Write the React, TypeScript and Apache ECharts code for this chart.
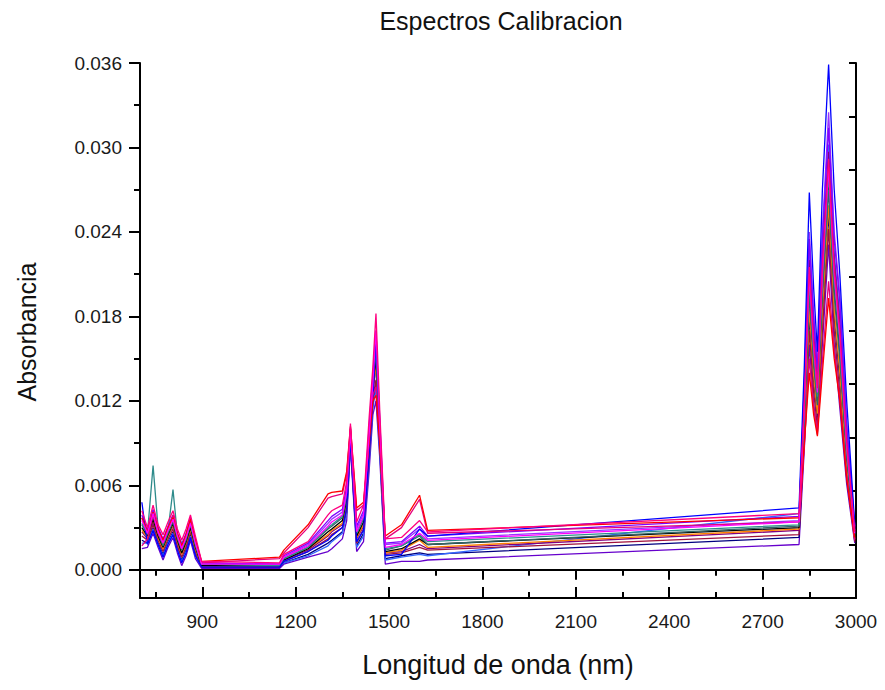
import React, { useEffect, useRef } from "react";
import * as echarts from "echarts";

const wavelengths = [706, 724, 742, 758, 774, 790, 806, 820, 834, 848, 862, 878, 898, 1148, 1162, 1240, 1304, 1316, 1350, 1364, 1376, 1396, 1418, 1436, 1448, 1458, 1470, 1488, 1540, 1598, 1624, 2817, 2834, 2850, 2864, 2876, 2892, 2912, 2930, 2948, 2970, 2996];

// Absorbance values, in units of 0.001
const sBlack = [3.0, 2.4, 3.6, 2.4, 1.6, 2.5, 3.3, 2.1, 1.2, 2.0, 3.0, 1.6, 0.3, 0.3, 0.7, 1.5, 2.7, 2.9, 3.5, 5.0, 9.6, 2.4, 3.4, 9.0, 12.8, 15.1, 9.8, 1.3, 1.5, 2.2, 1.8, 3.0, 11, 20, 15, 12, 20, 27.5, 20, 15.5, 8.2, 2.4];
const sBlue = [4.8, 1.8, 2.8, 1.8, 0.9, 1.8, 2.5, 1.4, 0.5, 1.2, 2.3, 1.0, 0.2, 0.2, 0.6, 1.3, 2.1, 2.4, 3.0, 4.4, 9.3, 2.0, 2.8, 8.2, 12.0, 16.5, 10.2, 1.0, 1.1, 2.9, 2.4, 4.4, 14.5, 26.8, 20, 15.5, 27, 35.9, 27, 21, 12, 3.2];
const sMagenta = [3.5, 2.6, 4.0, 2.7, 1.9, 2.8, 3.6, 2.4, 1.5, 2.3, 3.3, 1.9, 0.4, 0.4, 0.9, 1.7, 3.1, 3.4, 3.9, 5.5, 9.8, 2.7, 3.8, 9.6, 13.3, 17.0, 10.3, 1.6, 1.8, 2.6, 2.1, 3.4, 11.6, 21, 15.8, 12.6, 21, 28.6, 21, 16.5, 8.8, 2.6];
const sTeal = [3.3, 2.6, 7.4, 3.0, 1.8, 2.8, 5.7, 2.5, 1.9, 2.3, 3.3, 1.8, 0.4, 0.3, 0.8, 1.6, 3.0, 3.2, 3.8, 5.3, 9.7, 2.6, 3.7, 9.4, 13.1, 15.7, 10.1, 1.5, 1.7, 2.5, 2.0, 3.2, 11.3, 20.5, 15.4, 12.3, 20.5, 28.1, 20.5, 16, 8.5, 2.5];
const sNavy = [2.1, 1.9, 3.0, 1.9, 1.1, 2.0, 2.7, 1.6, 0.7, 1.4, 2.5, 1.1, 0.2, 0.2, 0.5, 1.1, 1.9, 2.1, 2.7, 4.1, 9.1, 1.7, 2.6, 7.8, 11.7, 13.2, 8.7, 0.8, 1.0, 1.2, 1.1, 2.3, 9.8, 18, 13.4, 10.8, 18, 25.3, 18, 13.5, 7.2, 2.2];
const sViolet = [3.9, 2.8, 4.3, 3.0, 2.2, 3.1, 3.9, 2.6, 1.8, 2.6, 3.6, 2.2, 0.5, 0.4, 1.0, 1.9, 3.5, 3.8, 4.3, 5.9, 10.1, 3.1, 4.2, 10.2, 13.8, 17.0, 10.8, 1.9, 2.0, 3.1, 2.4, 3.8, 13.1, 23.5, 17.8, 14.1, 23.5, 31.4, 23.5, 19, 10.2, 3.0];
const sPurple = [2.7, 2.2, 3.4, 2.3, 1.5, 2.4, 3.1, 1.9, 1.1, 1.8, 2.9, 1.5, 0.3, 0.3, 0.7, 1.4, 2.4, 2.7, 3.2, 4.7, 9.4, 2.2, 3.1, 8.6, 12.4, 14.5, 9.4, 1.2, 1.3, 1.8, 1.5, 2.8, 12.2, 22, 16.6, 13.2, 22, 29.7, 22, 17.5, 9.4, 2.8];
const sWine = [2.4, 2.1, 3.2, 2.1, 1.3, 2.2, 2.9, 1.7, 0.9, 1.6, 2.7, 1.3, 0.2, 0.2, 0.6, 1.3, 2.2, 2.5, 3.0, 4.3, 9.2, 1.9, 2.9, 8.0, 12.2, 13.5, 9.1, 1.1, 1.2, 1.6, 1.4, 2.5, 9.2, 17, 12.6, 10.2, 17, 24.2, 17, 12.5, 6.6, 2.0];
const sDarkCyan = [3.2, 2.5, 3.8, 2.6, 1.7, 2.6, 3.4, 2.2, 1.4, 2.1, 3.2, 1.7, 0.4, 0.3, 0.8, 1.6, 2.9, 3.1, 3.7, 5.2, 9.8, 2.6, 3.6, 9.3, 13.0, 15.6, 10.0, 1.4, 1.7, 2.4, 1.8, 3.1, 10.7, 19.5, 14.6, 11.7, 19.5, 27, 19.5, 15, 8, 2.4];
const sRoyal = [1.9, 1.9, 2.9, 1.8, 1.0, 1.9, 2.6, 1.5, 0.6, 1.3, 2.4, 1.0, 0.2, 0.2, 0.5, 1.0, 1.7, 2.0, 2.6, 4.0, 9.0, 1.6, 2.4, 7.6, 11.5, 12.9, 8.5, 0.7, 0.9, 1.1, 1.0, 4.0, 12.5, 22.5, 17, 13.5, 22.5, 30.2, 22.5, 18, 9.6, 2.8];
const sOrange = [2.8, 2.3, 3.6, 2.3, 1.5, 2.4, 3.2, 2.0, 1.1, 1.9, 2.9, 1.5, 0.3, 0.3, 0.8, 1.5, 2.5, 2.8, 3.3, 4.8, 9.5, 2.3, 3.2, 8.8, 12.6, 14.6, 9.6, 1.2, 1.4, 2.1, 1.6, 2.9, 10.1, 18.5, 13.8, 11.1, 18.5, 25.9, 18.5, 14, 7.4, 2.2];
const sViolet2 = [3.7, 2.6, 4.2, 2.9, 2.0, 3.0, 3.8, 2.5, 1.6, 2.5, 3.5, 2.0, 0.5, 0.4, 0.9, 1.8, 3.3, 3.6, 4.1, 5.7, 10.0, 2.9, 4.0, 9.9, 13.6, 16.6, 10.6, 1.8, 1.9, 2.9, 2.2, 3.5, 13.4, 24, 18.2, 14.4, 24, 32.5, 24, 19.5, 10.5, 3.1];
const sPink = [4.2, 3.0, 4.6, 3.2, 2.5, 3.4, 4.2, 2.9, 2.1, 2.9, 3.9, 2.4, 0.6, 0.5, 1.1, 2.0, 3.9, 4.2, 4.6, 6.3, 10.4, 3.4, 4.6, 10.8, 14.4, 18.2, 11.4, 2.2, 2.3, 3.5, 2.7, 4.0, 11.9, 21.5, 16.2, 12.9, 21.5, 29.2, 21.5, 17, 9.1, 2.7];
const sPurple2 = [1.5, 1.6, 2.6, 1.6, 0.7, 1.6, 2.3, 1.2, 0.3, 1.0, 2.1, 0.8, 0.1, 0.1, 0.4, 0.9, 1.3, 1.5, 2.2, 3.5, 8.8, 1.3, 2.0, 7.0, 11.0, 12.0, 8.0, 0.4, 0.6, 0.6, 0.7, 1.8, 8.6, 16, 11.8, 9.6, 16, 23.1, 16, 11.5, 6.1, 1.9];
const sRed = [3.7, 2.7, 4.1, 2.9, 2.1, 3.0, 3.7, 2.6, 1.7, 2.5, 3.6, 2.1, 0.6, 0.9, 1.4, 3.2, 5.4, 5.5, 5.6, 7.0, 10.2, 4.4, 4.8, 9.0, 12.0, 12.4, 9.0, 2.4, 3.2, 5.3, 2.8, 3.7, 9, 14, 11, 9.5, 14, 19.3, 15, 12, 6.5, 2.3];
const sMagentaRed = [1.7, 2.2, 3.9, 2.6, 1.9, 2.9, 3.9, 2.4, 1.5, 2.4, 3.7, 2.0, 0.5, 0.8, 1.2, 3.0, 5.1, 5.2, 5.4, 6.8, 10.0, 4.2, 4.6, 9.2, 12.4, 13.0, 9.4, 2.2, 3.0, 5.0, 2.6, 3.4, 8.8, 15, 11.5, 9.8, 14.8, 20.5, 15.5, 12.2, 6.8, 2.1];

const spectra = [
  { name: "S16", color: "#6600cc", values: sPurple2 },
  { name: "S6", color: "#000080", values: sNavy },
  { name: "S11", color: "#3366ff", values: sRoyal },
  { name: "S9", color: "#a0103c", values: sWine },
  { name: "S8", color: "#800080", values: sPurple },
  { name: "S12", color: "#ff8000", values: sOrange },
  { name: "S1", color: "#000000", values: sBlack },
  { name: "S10", color: "#336666", values: sDarkCyan },
  { name: "S5", color: "#2e8b8b", values: sTeal },
  { name: "S13", color: "#9933ff", values: sViolet2 },
  { name: "S7", color: "#8000ff", values: sViolet },
  { name: "S3", color: "#0000ff", values: sBlue },
  { name: "S15", color: "#e6007e", values: sMagentaRed },
  { name: "S2", color: "#ff0000", values: sRed },
  { name: "S4", color: "#ff00ff", values: sMagenta },
  { name: "S14", color: "#ff0080", values: sPink },
];

const xMajor = [900, 1200, 1500, 1800, 2100, 2400, 2700, 3000];
const xMinor = [750, 1050, 1350, 1650, 1950, 2250, 2550, 2850];
const yMajor = [0, 6, 12, 18, 24, 30, 36];
const yMinor = [3, 9, 15, 21, 27, 33];

const FONT = "'Liberation Sans', Arial, Helvetica, sans-serif";
const GRID = { left: 140, top: 63, right: 29, bottom: 92 };

export default function App() {
  const ref = useRef<HTMLDivElement>(null);
  useEffect(() => {
    if (!ref.current) return;
    const chart = echarts.init(ref.current, null, { renderer: "svg" });
    const lineAxis = { show: true, lineStyle: { color: "#000", width: 2 } };
    const noLine = { show: false };
    const option: any = {
      animation: false,
      backgroundColor: "#fff",
      grid: [
        { ...GRID, containLabel: false },
        { ...GRID, containLabel: false },
      ],
      xAxis: [
        {
          gridIndex: 0, type: "value", position: "bottom", min: 700, max: 3000,
          axisLine: lineAxis, splitLine: { show: false },
          axisTick: { show: true, customValues: xMajor, length: 10, lineStyle: { color: "#000", width: 2 } },
          axisLabel: {
            show: true, customValues: xMajor, fontSize: 19, color: "#1a1a1a", fontFamily: FONT, margin: 14,
            formatter: (v: number) => String(v),
          },
        },
        {
          gridIndex: 0, type: "value", position: "top", min: 700, max: 3000,
          axisLine: lineAxis, splitLine: { show: false },
          axisTick: { show: true, customValues: xMajor, length: 11, lineStyle: { color: "#000", width: 2 } },
          axisLabel: { show: false },
        },
        {
          gridIndex: 1, type: "value", position: "bottom", min: 700, max: 3000,
          axisLine: noLine, splitLine: { show: false },
          axisTick: { show: true, customValues: xMinor, length: 6, lineStyle: { color: "#000", width: 2 } },
          axisLabel: { show: false },
        },
        {
          gridIndex: 1, type: "value", position: "top", min: 700, max: 3000,
          axisLine: noLine, splitLine: { show: false },
          axisTick: { show: true, customValues: xMinor, length: 6, lineStyle: { color: "#000", width: 2 } },
          axisLabel: { show: false },
        },
      ],
      yAxis: [
        {
          gridIndex: 0, type: "value", position: "left", min: -2, max: 36,
          axisLine: lineAxis, splitLine: { show: false },
          axisTick: { show: true, customValues: yMajor, length: 11, lineStyle: { color: "#000", width: 2 } },
          axisLabel: {
            show: true, customValues: yMajor, fontSize: 19, color: "#1a1a1a", fontFamily: FONT, margin: 18,
            formatter: (v: number) => (v / 1000).toFixed(3),
          },
        },
        {
          gridIndex: 0, type: "value", position: "right", min: 0, max: 10, interval: 1,
          axisLine: lineAxis, splitLine: { show: false },
          axisTick: { show: true, inside: true, length: 7, lineStyle: { color: "#000", width: 2 } },
          axisLabel: { show: false },
        },
        {
          gridIndex: 1, type: "value", position: "left", min: -2, max: 36,
          axisLine: noLine, splitLine: { show: false },
          axisTick: { show: true, customValues: yMinor, length: 6, lineStyle: { color: "#000", width: 2 } },
          axisLabel: { show: false },
        },
        {
          gridIndex: 1, type: "value", position: "right", min: 0, max: 10,
          axisLine: noLine, splitLine: { show: false }, axisTick: { show: false }, axisLabel: { show: false },
        },
      ],
      series: spectra.map((s) => ({
        type: "line",
        name: s.name,
        xAxisIndex: 0,
        yAxisIndex: 0,
        data: wavelengths.map((w, i) => [w, s.values[i]]),
        symbol: "none",
        silent: true,
        lineStyle: { color: s.color, width: 1.3 },
        itemStyle: { color: s.color },
      })),
      graphic: [
        {
          type: "text", x: 501, y: 21,
          style: { text: "Espectros Calibracion", font: `25px ${FONT}`, fill: "#111", textAlign: "center", textVerticalAlign: "middle" },
        },
        {
          type: "text", x: 498, y: 665,
          style: { text: "Longitud de onda (nm)", font: `27px ${FONT}`, fill: "#111", textAlign: "center", textVerticalAlign: "middle" },
        },
        {
          type: "text", x: 27, y: 332, rotation: Math.PI / 2,
          style: { text: "Absorbancia", font: `25px ${FONT}`, fill: "#111", textAlign: "center", textVerticalAlign: "middle" },
        },
      ],
    };
    chart.setOption(option);
    return () => chart.dispose();
  }, []);
  return (
    <div
      ref={ref}
      style={{ position: "fixed", left: 0, top: 0, width: 885, height: 690, background: "#fff" }}
    />
  );
}
